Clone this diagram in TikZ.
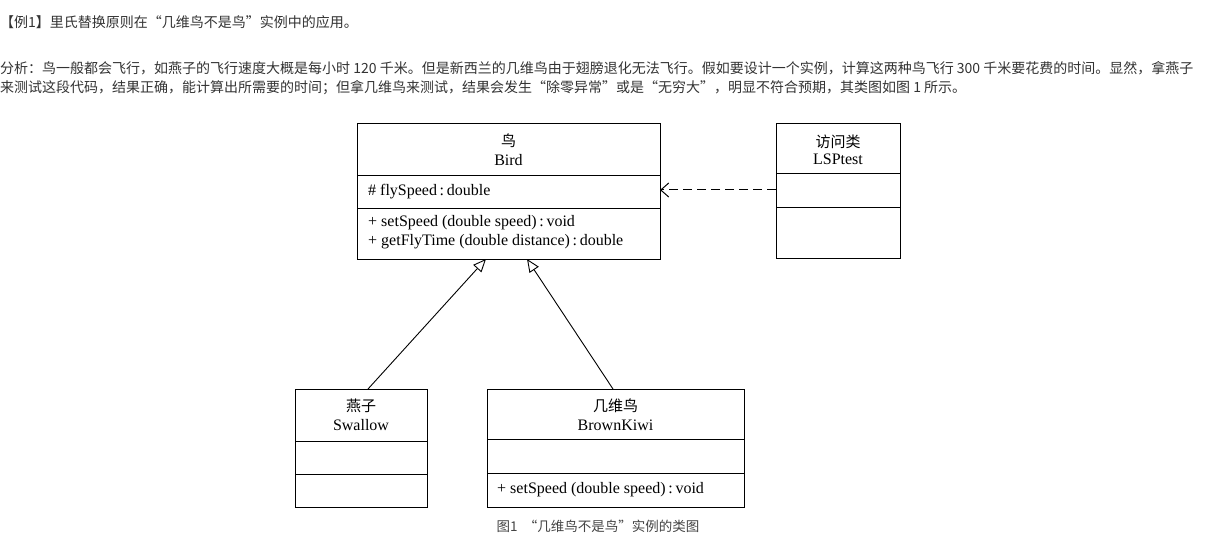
\documentclass[tikz,border=0pt]{standalone}
\usepackage{fontspec}
\setmainfont{Liberation Serif}
\newfontfamily\cjk{Noto Sans CJK SC}
\usetikzlibrary{arrows.meta}
\definecolor{bodytext}{HTML}{333333}
\definecolor{captext}{HTML}{444444}
\begin{document}
\begin{tikzpicture}[x=1pt,y=-1pt,
  cls/.style={draw, line width=1pt, rectangle, inner sep=0pt, outer sep=0pt},
  divider/.style={line width=1pt},
  uml/.style={inner sep=0pt, font=\fontsize{16}{18}\selectfont},
  umlcn/.style={inner sep=0pt, font=\cjk\fontsize{15}{17}\selectfont},
  para/.style={inner sep=0pt, anchor=west, text=bodytext, font=\cjk\fontsize{14}{16}\selectfont},
  caption/.style={inner sep=0pt, text=captext, font=\cjk\fontsize{13.5}{15}\selectfont},
  inherit/.style={line width=0.9pt, -{Triangle[open, length=13pt, width=11pt]}},
  depend/.style={line width=1pt, dash pattern=on 9pt off 5pt, -{Straight Barb[length=8pt, width=14pt]}}
]
\fill[white] (0,0) rectangle (1209,540);
\useasboundingbox (0,0) rectangle (1209,540);

% heading and explanatory paragraph
\node[para] (title) at (0,22) {【例1】里氏替换原则在“几维鸟不是鸟”实例中的应用。};
\node[para] (p1) at (0,68) {分析：鸟一般都会飞行，如燕子的飞行速度大概是每小时 120 千米。但是新西兰的几维鸟由于翅膀退化无法飞行。假如要设计一个实例，计算这两种鸟飞行 300 千米要花费的时间。显然，拿燕子};
\node[para] (p2) at (0,88) {来测试这段代码，结果正确，能计算出所需要的时间；但拿几维鸟来测试，结果会发生“除零异常”或是“无穷大”，明显不符合预期，其类图如图 1 所示。};

% class Bird
\node[cls, minimum width=303pt, minimum height=135pt] (bird) at (508.5,191.5) {};
\draw[divider] (357,176) -- (660,176);
\draw[divider] (357,208) -- (660,208);
\node[umlcn] (birdcn) at (508.5,141) {鸟};
\node[uml] (birden) at (508.5,160) {Bird};
\node[uml, anchor=west] (birdattr) at (368,192) {\# flySpeed\,:\,double};
\node[uml, anchor=west] (birdop1) at (368,223) {+ setSpeed (double speed)\,:\,void};
\node[uml, anchor=west] (birdop2) at (368,242) {+ getFlyTime (double distance)\,:\,double};

% class LSPtest
\node[cls, minimum width=124pt, minimum height=134pt] (lsp) at (838,191) {};
\draw[divider] (776,174) -- (900,174);
\draw[divider] (776,207) -- (900,207);
\node[umlcn] (lspcn) at (838,142) {访问类};
\node[uml] (lspen) at (838,159) {LSPtest};

% class Swallow
\node[cls, minimum width=132pt, minimum height=118pt] (swallow) at (361,448) {};
\draw[divider] (295,441) -- (427,441);
\draw[divider] (295,474) -- (427,474);
\node[umlcn] (swcn) at (361,406) {燕子};
\node[uml] (swen) at (361,425) {Swallow};

% class BrownKiwi
\node[cls, minimum width=257pt, minimum height=118pt] (kiwi) at (615.5,448) {};
\draw[divider] (487,439) -- (744,439);
\draw[divider] (487,473) -- (744,473);
\node[umlcn] (kwcn) at (615.5,406) {几维鸟};
\node[uml] (kwen) at (615.5,425) {BrownKiwi};
\node[uml, anchor=west] (kwop) at (497,490) {+ setSpeed (double speed)\,:\,void};

% connector end points on the class borders
\coordinate (swtop) at (368,389);
\coordinate (kwtop) at (613,389);
\coordinate (birdbl) at (486,259);
\coordinate (birdbr) at (527,259);
\coordinate (lspleft) at (776,190);
\coordinate (birdright) at (660,190);

% generalisation and dependency
\draw[inherit] (swtop) -- (birdbl);
\draw[inherit] (kwtop) -- (birdbr);
\draw[depend] (lspleft) -- (birdright);

% figure caption
\node[caption] (cap) at (598,526) {图1 \ “几维鸟不是鸟”实例的类图};
\end{tikzpicture}
\end{document}
